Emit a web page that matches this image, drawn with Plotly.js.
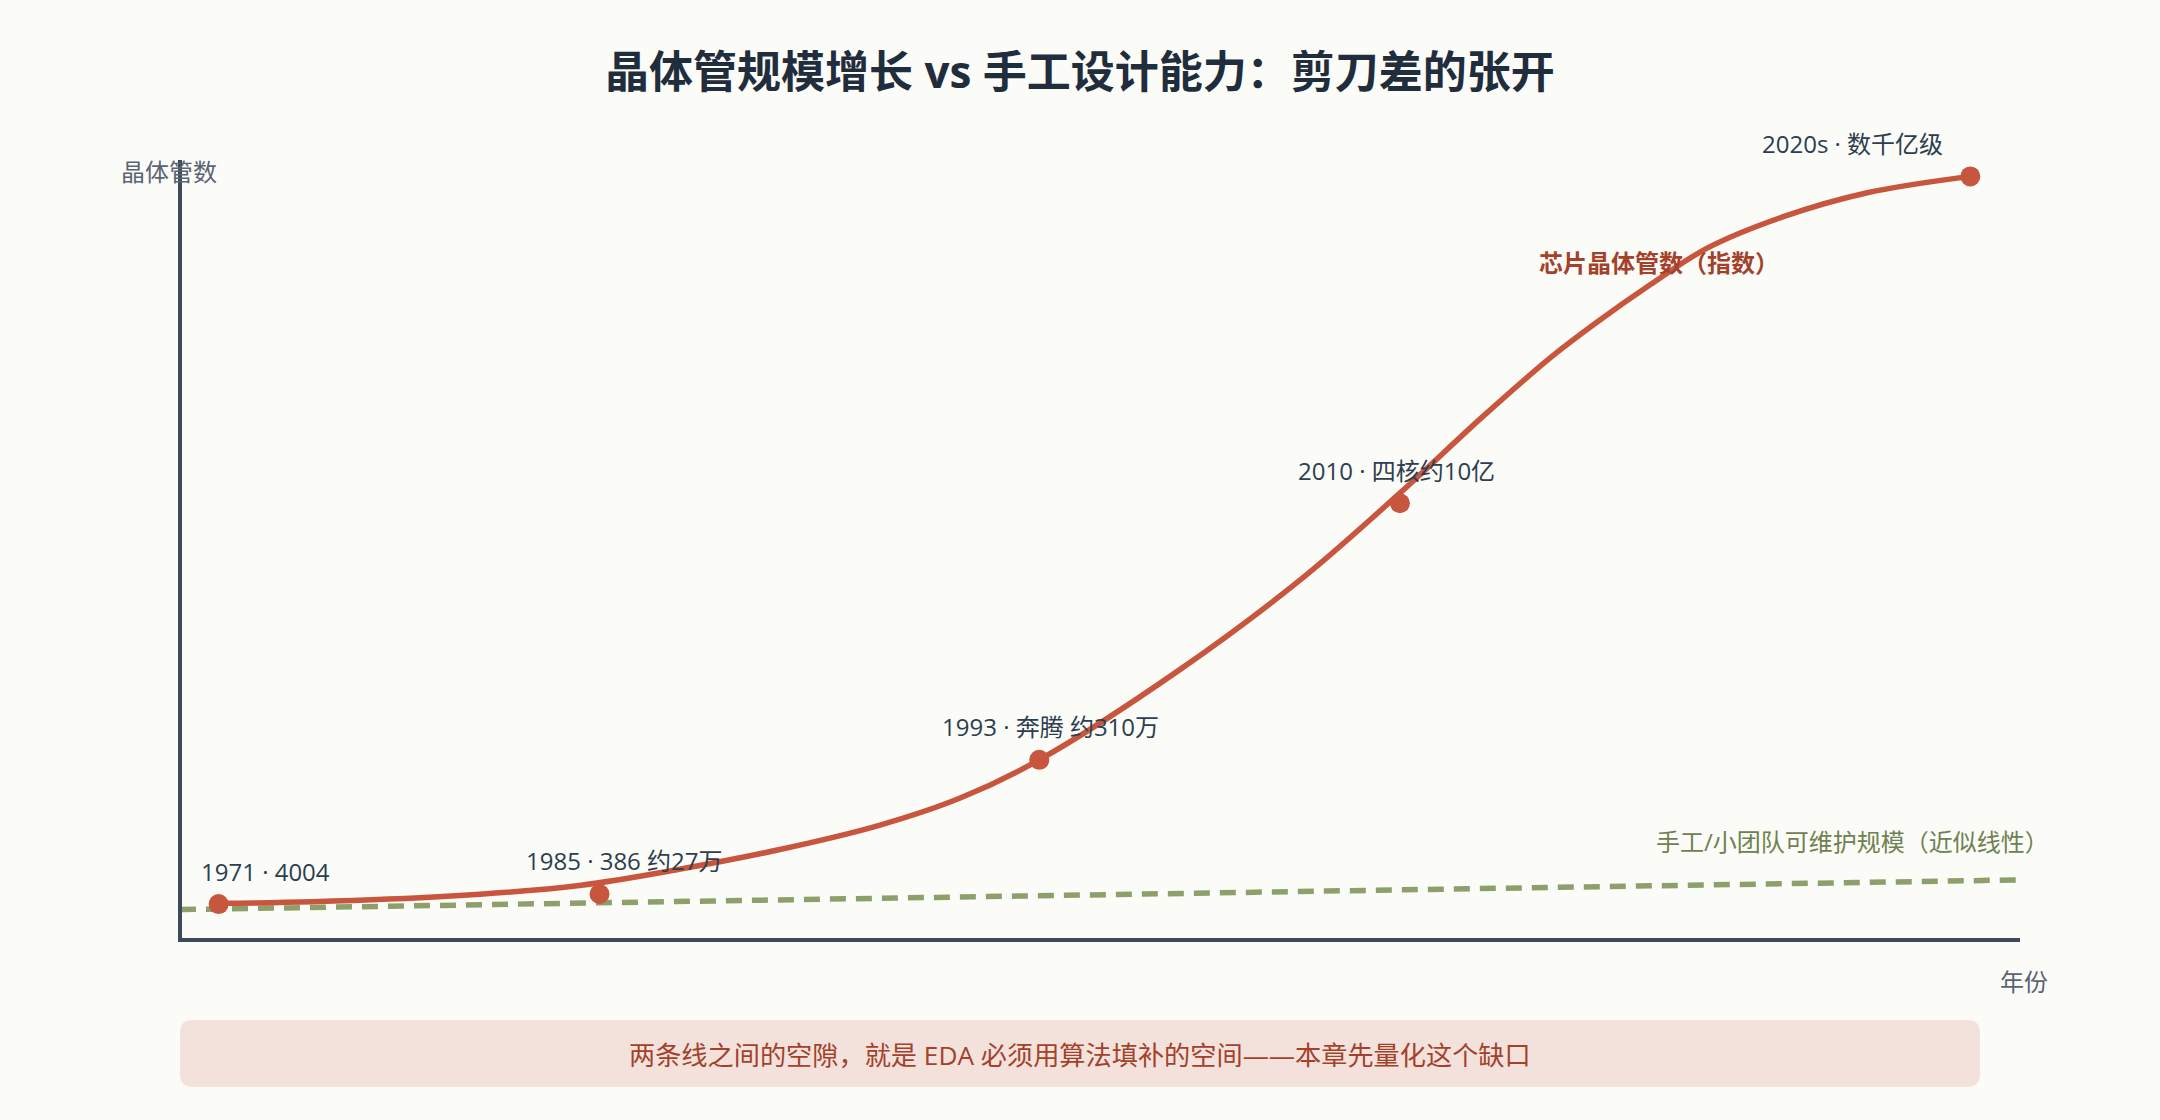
<!DOCTYPE html>
<html>
<head>
<meta charset="utf-8">
<script src="https://cdn.plot.ly/plotly-3.0.1.min.js"></script>
<style>
  html, body { margin: 0; padding: 0; background: #fbfbf7; }
  #chart { width: 2160px; height: 1120px; }
</style>
</head>
<body>
<div id="chart"></div>
<script>
// schematic axes: x = position on the timeline (0-100), y = relative scale (0-100)
var milestoneLabels = ['1971 · 4004', '1985 · 386 约27万', '1993 · 奔腾 约310万', '2010 · 四核约10亿', '2020s · 数千亿级'];
var milestoneX = [2.1, 22.8, 46.7, 66.3, 97.3];
var milestoneY = [4.6, 5.9, 23.1, 56.0, 97.9];

// transistor count curve
var curveX = [2.1, 7.2, 14.5, 21.7, 27.2, 32.6, 38.0, 42.4, 46.7, 54.3, 60.9, 66.3, 70.8, 74.5, 77.0, 79.9, 83.0, 87.1, 91.7, 97.3];
var curveY = [4.7, 4.9, 5.6, 7.0, 9.1, 11.6, 14.7, 18.2, 23.1, 34.6, 46.2, 57.3, 67.1, 74.7, 79.2, 84.0, 88.7, 92.7, 95.8, 97.9];

// manual / small team capacity (roughly linear)
var manualX = [0, 99.8];
var manualY = [3.9, 7.7];

var titleText = '晶体管规模增长 vs 手工设计能力：剪刀差的张开';
var curveName = '芯片晶体管数（指数）';
var manualName = '手工/小团队可维护规模（近似线性）';
var noteText = '两条线之间的空隙，就是 EDA 必须用算法填补的空间——本章先量化这个缺口';

var RED = '#c8553d';
var GREEN = '#8da06c';
var AXIS = '#3d4a5c';
var FONT = '"Open Sans", "Noto Sans CJK SC", sans-serif';

// label offsets in px from each milestone dot
var labelShiftX = [47, 25, 11, -3, -118];
var labelShiftY = 33;

var manualTrace = {
  name: manualName,
  x: manualX,
  y: manualY,
  mode: 'lines',
  type: 'scatter',
  line: { color: GREEN, width: 5.5, dash: '16px,10px' },
  hoverinfo: 'skip',
};

var curveTrace = {
  name: curveName,
  x: curveX,
  y: curveY,
  mode: 'lines',
  type: 'scatter',
  line: { color: RED, width: 5.5, shape: 'spline', smoothing: 1 },
  hoverinfo: 'skip',
};

var dotsTrace = {
  name: 'milestones',
  x: milestoneX,
  y: milestoneY,
  mode: 'markers',
  type: 'scatter',
  marker: { color: RED, size: 20 },
  hoverinfo: 'skip',
  cliponaxis: false,
};

var annotations = milestoneLabels.map(function(label, i) {
  return {
    text: label,
    x: milestoneX[i],
    y: milestoneY[i],
    xref: 'x',
    yref: 'y',
    showarrow: false,
    xanchor: 'center',
    yanchor: 'middle',
    xshift: labelShiftX[i],
    yshift: labelShiftY,
    font: { family: FONT, size: 24, color: '#2c3e50' },
  };
});

annotations.push(
  {
    text: '<b>' + curveName + '</b>',
    x: 80.4, y: 86.9, xref: 'x', yref: 'y',
    showarrow: false, xanchor: 'center', yanchor: 'middle',
    font: { family: FONT, size: 24, color: '#a3412b' },
  },
  {
    text: manualName,
    x: 90.9, y: 12.6, xref: 'x', yref: 'y',
    showarrow: false, xanchor: 'center', yanchor: 'middle',
    font: { family: FONT, size: 24, color: '#6f8150' },
  },
  {
    text: '晶体管数',
    x: -0.0072, y: 0.985, xref: 'paper', yref: 'paper',
    showarrow: false, xanchor: 'center', yanchor: 'middle',
    font: { family: FONT, size: 24, color: '#5a6474' },
  },
  {
    text: '年份',
    x: 1.0022, y: -0.0553, xref: 'paper', yref: 'paper',
    showarrow: false, xanchor: 'center', yanchor: 'middle',
    font: { family: FONT, size: 24, color: '#5a6474' },
  },
  {
    text: noteText,
    x: 0.4886, y: -0.1504, xref: 'paper', yref: 'paper',
    showarrow: false, xanchor: 'center', yanchor: 'middle',
    font: { family: FONT, size: 26.2, color: '#a3412b' },
  }
);

// rounded note box under the plot (paper coords)
var bx0 = -0.0011, bx1 = 0.97824, byT = -0.1054, byB = -0.19152;
var rx = 0.00707, ry = 0.01671;
var boxPath = 'M ' + (bx0 + rx) + ',' + byT +
  ' L ' + (bx1 - rx) + ',' + byT +
  ' Q ' + bx1 + ',' + byT + ' ' + bx1 + ',' + (byT - ry) +
  ' L ' + bx1 + ',' + (byB + ry) +
  ' Q ' + bx1 + ',' + byB + ' ' + (bx1 - rx) + ',' + byB +
  ' L ' + (bx0 + rx) + ',' + byB +
  ' Q ' + bx0 + ',' + byB + ' ' + bx0 + ',' + (byB + ry) +
  ' L ' + bx0 + ',' + (byT - ry) +
  ' Q ' + bx0 + ',' + byT + ' ' + (bx0 + rx) + ',' + byT + ' Z';

var layout = {
  width: 2160,
  height: 1120,
  paper_bgcolor: '#fbfbf7',
  plot_bgcolor: '#fbfbf7',
  margin: { l: 182, r: 140, t: 160, b: 182 },
  showlegend: false,
  title: {
    text: '<b>' + titleText + '</b>',
    x: 0.5,
    xref: 'container',
    xanchor: 'center',
    y: 0.9353,
    yref: 'container',
    yanchor: 'middle',
    font: { family: FONT, size: 44, color: '#1f2d3d' },
  },
  xaxis: {
    range: [0.109, 100],
    autorange: false,
    showgrid: false,
    zeroline: false,
    showticklabels: false,
    ticks: '',
    showline: true,
    linecolor: AXIS,
    linewidth: 4,
    fixedrange: true,
  },
  yaxis: {
    range: [0.256, 100],
    autorange: false,
    showgrid: false,
    zeroline: false,
    showticklabels: false,
    ticks: '',
    showline: true,
    linecolor: AXIS,
    linewidth: 4,
    fixedrange: true,
  },
  shapes: [
    {
      type: 'path',
      path: boxPath,
      xref: 'paper',
      yref: 'paper',
      fillcolor: '#f3e2dc',
      line: { width: 0 },
      layer: 'below',
    },
  ],
  annotations: annotations,
};

Plotly.newPlot('chart', [manualTrace, curveTrace, dotsTrace], layout, { displayModeBar: false, staticPlot: true });
</script>
</body>
</html>
